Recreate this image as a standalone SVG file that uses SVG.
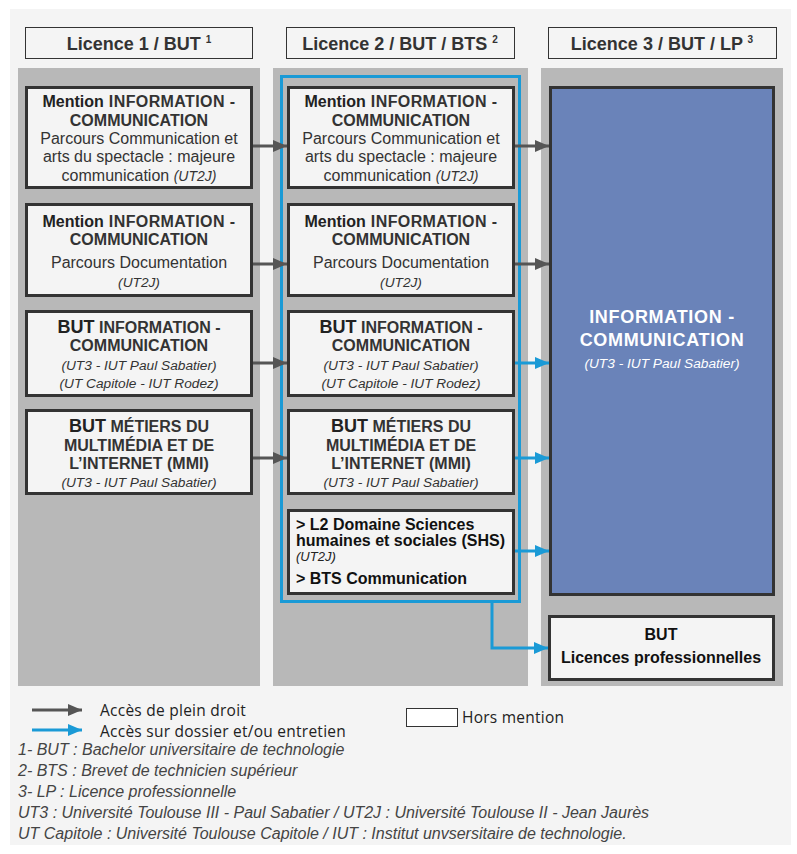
<svg xmlns="http://www.w3.org/2000/svg" width="797" height="854" viewBox="0 0 797 854">
<style>
.hdr{fill:#f4f4f4;stroke:#333;stroke-width:1}
.col{fill:#b8b8b8}
.box{fill:#f4f4f4;stroke:#333;stroke-width:3}
text{font-family:"Liberation Sans",Arial,sans-serif;fill:#333}
.h{font-size:18px;font-weight:bold;text-anchor:middle}
.b{font-size:16px;font-weight:bold;text-anchor:middle}
.r{font-size:16px;text-anchor:middle}
.i{font-size:13.7px;font-style:italic;text-anchor:middle}
.s{font-size:16px;font-weight:bold;fill:#111}
.si{font-size:13px;font-style:italic;fill:#222}
.w{font-size:18px;font-weight:bold;fill:#fff;text-anchor:middle;letter-spacing:0.7px}
.wi{font-size:13.7px;font-style:italic;fill:#fff;text-anchor:middle}
.lg{font-family:"Open Sans","Noto Sans",sans-serif;font-size:15.5px;letter-spacing:0.25px;fill:#222}
.fn{font-size:16px;font-style:italic;fill:#444}
.ga{stroke:#555;stroke-width:3;fill:none}
.ba{stroke:#1a9ad6;stroke-width:3;fill:none}
.ls{letter-spacing:0.4px}
</style>
<defs>
<marker id="mg" markerUnits="userSpaceOnUse" markerWidth="14" markerHeight="12" refX="14" refY="6" orient="auto"><path d="M0,0 L14,6 L0,12 Z" fill="#555"/></marker>
<marker id="mb" markerUnits="userSpaceOnUse" markerWidth="14" markerHeight="12" refX="14" refY="6" orient="auto"><path d="M0,0 L14,6 L0,12 Z" fill="#1a9ad6"/></marker>
</defs>
<rect x="0" y="0" width="797" height="854" fill="#ffffff"/>
<rect x="10" y="9" width="781" height="836" fill="#f4f4f4"/>

<g id="headers">
<rect class="hdr" x="25.5" y="27.5" width="227" height="31"/>
<text class="h" x="139" y="50">Licence 1 / BUT <tspan font-size="10" dy="-7">1</tspan></text>
<rect class="hdr" x="286.5" y="27.5" width="228" height="31"/>
<text class="h" x="400" y="50">Licence 2 / BUT / BTS <tspan font-size="10" dy="-7">2</tspan></text>
<rect class="hdr" x="548.5" y="27.5" width="228" height="31"/>
<text class="h" x="662" y="50">Licence 3 / BUT / LP <tspan font-size="10" dy="-7">3</tspan></text>
</g>

<g id="columns">
<rect class="col" x="18" y="68" width="242" height="618"/>
<rect class="col" x="273" y="68" width="255" height="618"/>
<rect class="col" x="541" y="68" width="242" height="618"/>
</g>

<g id="frame-l2">
<rect x="281.5" y="76.5" width="238" height="525" fill="none" stroke="#1a9ad6" stroke-width="3"/>
</g>

<g id="l1-mention-cas">
<rect class="box" x="26.5" y="87.5" width="225" height="100"/>
<text class="b" x="139" y="107"><tspan fill="#222">Mention</tspan><tspan class="ls" dx="5">INFORMATION -</tspan></text>
<text class="b" x="139" y="126">COMMUNICATION</text>
<text class="r" x="139" y="144">Parcours Communication et</text>
<text class="r" x="139" y="162">arts du spectacle : majeure</text>
<text class="r" x="139" y="181">communication <tspan font-style="italic" font-size="14">(UT2J)</tspan></text>
</g>

<g id="l1-mention-doc">
<rect class="box" x="26.5" y="204.5" width="225" height="91"/>
<text class="b" x="139" y="227"><tspan fill="#222">Mention</tspan><tspan class="ls" dx="5">INFORMATION -</tspan></text>
<text class="b" x="139" y="245">COMMUNICATION</text>
<text class="r" x="139" y="268">Parcours Documentation</text>
<text class="i" x="139" y="287">(UT2J)</text>
</g>

<g id="l1-but-infocom">
<rect class="box" x="26.5" y="311.5" width="225" height="84"/>
<text class="b" x="139" y="333"><tspan fill="#222" font-size="18">BUT</tspan> INFORMATION -</text>
<text class="b" x="139" y="351">COMMUNICATION</text>
<text class="i" x="139" y="370">(UT3 - IUT Paul Sabatier)</text>
<text class="i" x="139" y="388">(UT Capitole - IUT Rodez)</text>
</g>

<g id="l1-but-mmi">
<rect class="box" x="26.5" y="410.5" width="225" height="83"/>
<text class="b" x="139" y="432"><tspan fill="#222" font-size="18">BUT</tspan> MÉTIERS DU</text>
<text class="b" x="139" y="451">MULTIMÉDIA ET DE</text>
<text class="b" x="139" y="469">L’INTERNET (MMI)</text>
<text class="i" x="139" y="487">(UT3 - IUT Paul Sabatier)</text>
</g>

<g id="l2-mention-cas">
<rect class="box" x="288.5" y="87.5" width="225" height="100"/>
<text class="b" x="401" y="107"><tspan fill="#222">Mention</tspan><tspan class="ls" dx="5">INFORMATION -</tspan></text>
<text class="b" x="401" y="126">COMMUNICATION</text>
<text class="r" x="401" y="144">Parcours Communication et</text>
<text class="r" x="401" y="162">arts du spectacle : majeure</text>
<text class="r" x="401" y="181">communication <tspan font-style="italic" font-size="14">(UT2J)</tspan></text>
</g>

<g id="l2-mention-doc">
<rect class="box" x="288.5" y="204.5" width="225" height="91"/>
<text class="b" x="401" y="227"><tspan fill="#222">Mention</tspan><tspan class="ls" dx="5">INFORMATION -</tspan></text>
<text class="b" x="401" y="245">COMMUNICATION</text>
<text class="r" x="401" y="268">Parcours Documentation</text>
<text class="i" x="401" y="287">(UT2J)</text>
</g>

<g id="l2-but-infocom">
<rect class="box" x="288.5" y="311.5" width="225" height="84"/>
<text class="b" x="401" y="333"><tspan fill="#222" font-size="18">BUT</tspan> INFORMATION -</text>
<text class="b" x="401" y="351">COMMUNICATION</text>
<text class="i" x="401" y="370">(UT3 - IUT Paul Sabatier)</text>
<text class="i" x="401" y="388">(UT Capitole - IUT Rodez)</text>
</g>

<g id="l2-but-mmi">
<rect class="box" x="288.5" y="410.5" width="225" height="83"/>
<text class="b" x="401" y="432"><tspan fill="#222" font-size="18">BUT</tspan> MÉTIERS DU</text>
<text class="b" x="401" y="451">MULTIMÉDIA ET DE</text>
<text class="b" x="401" y="469">L’INTERNET (MMI)</text>
<text class="i" x="401" y="487">(UT3 - IUT Paul Sabatier)</text>
</g>

<g id="l2-shs-bts">
<rect class="box" x="288.5" y="510.5" width="225" height="83"/>
<text class="s" x="296" y="530">&gt; L2 Domaine Sciences</text>
<text class="s" x="296" y="546">humaines et sociales (SHS)</text>
<text class="si" x="296" y="561">(UT2J)</text>
<text class="s" x="296" y="584">&gt; BTS Communication</text>
</g>

<g id="l3-infocom">
<rect x="550.5" y="87.5" width="223" height="507" fill="#6a83b9" stroke="#333" stroke-width="3"/>
<text class="w" x="662" y="323">INFORMATION -</text>
<text class="w" x="662" y="346">COMMUNICATION</text>
<text class="wi" x="662" y="368">(UT3 - IUT Paul Sabatier)</text>
</g>

<g id="l3-but-lp">
<rect class="box" x="549.5" y="616.5" width="224" height="63"/>
<text class="b" x="661" y="640" font-size="17" style="fill:#111">BUT</text>
<text class="b" x="661" y="663" style="fill:#111">Licences professionnelles</text>
</g>

<g id="connectors">
<line class="ga" x1="253" y1="146" x2="287" y2="146" marker-end="url(#mg)"/>
<line class="ga" x1="253" y1="264" x2="287" y2="264" marker-end="url(#mg)"/>
<line class="ga" x1="253" y1="363" x2="287" y2="363" marker-end="url(#mg)"/>
<line class="ga" x1="253" y1="458" x2="287" y2="458" marker-end="url(#mg)"/>
<line class="ga" x1="515" y1="146" x2="549" y2="146" marker-end="url(#mg)"/>
<line class="ga" x1="515" y1="264" x2="549" y2="264" marker-end="url(#mg)"/>
<line class="ba" x1="515" y1="363" x2="549" y2="363" marker-end="url(#mb)"/>
<line class="ba" x1="515" y1="458" x2="549" y2="458" marker-end="url(#mb)"/>
<line class="ba" x1="515" y1="551" x2="549" y2="551" marker-end="url(#mb)"/>
<polyline class="ba" points="492,603 492,648 548,648" marker-end="url(#mb)"/>
</g>

<g id="legend">
<line class="ga" x1="32" y1="710" x2="82" y2="710" marker-end="url(#mg)"/>
<text class="lg" x="100" y="716">Accès de plein droit</text>
<line class="ba" x1="32" y1="730" x2="82" y2="730" marker-end="url(#mb)"/>
<text class="lg" x="100" y="737">Accès sur dossier et/ou entretien</text>
<rect x="406.5" y="708.5" width="51" height="18" fill="#fff" stroke="#333" stroke-width="1"/>
<text class="lg" x="462" y="723">Hors mention</text>
<text class="fn" x="18" y="755">1- BUT : Bachelor universitaire de technologie</text>
<text class="fn" x="18" y="776">2- BTS : Brevet de technicien supérieur</text>
<text class="fn" x="18" y="797">3- LP : Licence professionnelle</text>
<text class="fn" x="18" y="818">UT3 : Université Toulouse III - Paul Sabatier / UT2J : Université Toulouse II - Jean Jaurès</text>
<text class="fn" x="18" y="839">UT Capitole : Université Toulouse Capitole / IUT : Institut unvsersitaire de technologie.</text>
</g>
</svg>
